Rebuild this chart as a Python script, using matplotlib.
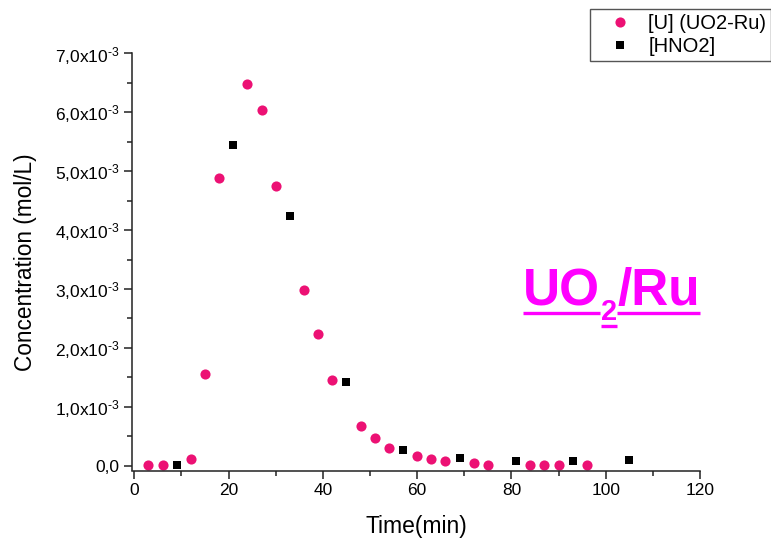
import matplotlib
matplotlib.use("Agg")
import matplotlib.pyplot as plt
from matplotlib.ticker import MultipleLocator, FixedLocator, FixedFormatter
from matplotlib.lines import Line2D

plt.rcParams['font.family'] = ['Liberation Sans', 'DejaVu Sans']
plt.rcParams['mathtext.fontset'] = 'custom'
plt.rcParams['mathtext.rm'] = 'Liberation Sans'
plt.rcParams['mathtext.it'] = 'Liberation Sans:italic'
plt.rcParams['mathtext.bf'] = 'Liberation Sans:bold'

# ---- data ----
u_time = [3, 6, 12, 15, 18, 24, 27, 30, 36, 39, 42, 48, 51, 54, 60, 63, 66, 72, 75, 84, 87, 90, 96]
u_conc = [0.01, 0.01, 0.11, 1.56, 4.88, 6.48, 6.04, 4.75, 2.99, 2.24, 1.45, 0.68, 0.47, 0.31,
          0.165, 0.115, 0.08, 0.04, 0.02, 0.01, 0.01, 0.01, 0.01]  # x1e-3 mol/L
hno2_time = [9, 21, 33, 45, 57, 69, 81, 93, 105]
hno2_conc = [0.015, 5.44, 4.24, 1.42, 0.265, 0.135, 0.085, 0.075, 0.095]  # x1e-3 mol/L

u_label = "[U] (UO2-Ru)"
hno2_label = "[HNO2]"
x_ticks = [0, 20, 40, 60, 80, 100, 120]
y_ticks = [0, 1, 2, 3, 4, 5, 6, 7]
y_tick_labels = ["0,0"] + [r"%d,0x10$^{\text{-3}}$" % v for v in y_ticks[1:]]

scale = 1e-3
W, H = 771, 539
fig = plt.figure(figsize=(W / 100, H / 100), dpi=100)
ax = fig.add_axes([132 / W, 1 - 470.5 / H, (700 - 132) / W, (470.5 - 53.3) / H])

pink = '#EC1174'
ax.plot(u_time, [v * scale for v in u_conc], 'o', color=pink, markersize=7.3,
        markeredgewidth=0, label=u_label)
ax.plot(hno2_time, [v * scale for v in hno2_conc], 's', color='black', markersize=6.3,
        markeredgewidth=0, label=hno2_label)

ax.set_xlim(-0.5, 120)
ax.set_ylim(-0.08e-3, 7.0e-3)
ax.xaxis.set_major_locator(FixedLocator(x_ticks))
ax.xaxis.set_minor_locator(MultipleLocator(10))
ax.yaxis.set_major_locator(FixedLocator([v * scale for v in y_ticks]))
ax.yaxis.set_major_formatter(FixedFormatter(y_tick_labels))
ax.yaxis.set_minor_locator(MultipleLocator(0.5e-3))

for s in ['top', 'right']:
    ax.spines[s].set_visible(False)
for s in ['left', 'bottom']:
    ax.spines[s].set_linewidth(1.1)
    ax.spines[s].set_color('#222222')

ax.tick_params(which='major', direction='out', length=6, width=1.1, labelsize=12.5,
               color='#222222', pad=3)
ax.tick_params(which='minor', direction='out', length=3.5, width=1.1, color='#222222')

ax.set_xlabel("Time(min)", fontsize=16.5)
ax.xaxis.set_label_coords(0.5, -(533 - 470.5) / (470.5 - 53.3), transform=ax.transAxes)
ax.xaxis.label.set_va('baseline')
ax.set_ylabel("Concentration (mol/L)", fontsize=16.3)
ax.yaxis.set_label_coords(-(132 - 26) / (700 - 132), 0.5)
ax.yaxis.label.set_va('center')

leg = fig.legend(loc='upper left', bbox_to_anchor=(590 / W, 1 - 9 / H), fontsize=14.5,
                 frameon=True, fancybox=False, edgecolor='#555555', framealpha=1,
                 handlelength=2.5, handletextpad=0.15, borderpad=0.25, labelspacing=0.2,
                 borderaxespad=0, handleheight=0.7)
leg.get_frame().set_linewidth(1.0)

# ---- UO2/Ru annotation ----
mag = '#FF00FF'
fig.canvas.draw()
r = fig.canvas.get_renderer()

def ptxt(x, y, s, size):
    t = fig.text(x / W, 1 - y / H, s, fontsize=size, color=mag, fontweight='bold',
                 ha='left', va='baseline')
    bb = t.get_window_extent(renderer=r)
    return bb

base = 305
bb1 = ptxt(523, base, "UO", 37)
x2 = bb1.x1 + 1
bb2 = ptxt(x2, 320, "2", 21)
x3 = bb2.x1 + 0
bb3 = ptxt(x3, base, "/Ru", 37)

def uline(xa, xb, y):
    fig.add_artist(Line2D([xa / W, xb / W], [1 - y / H, 1 - y / H], color=mag, linewidth=2.4,
                          transform=fig.transFigure, solid_capstyle='butt'))

uline(bb1.x0, bb1.x1, 313)
uline(bb2.x0, bb2.x1, 326)
uline(bb3.x0, bb3.x1, 313)

fig.savefig("out.png", dpi=100)
